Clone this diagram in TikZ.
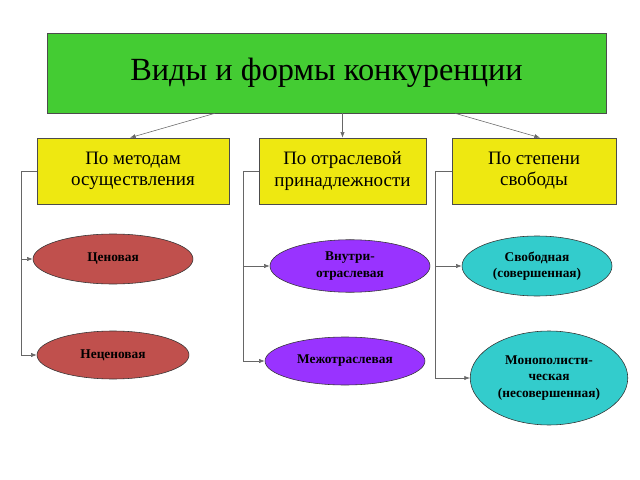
\documentclass[tikz,border=0pt]{standalone}
\usepackage{fontspec}
\setmainfont{Liberation Serif}
\usetikzlibrary{shapes.geometric,arrows.meta}
\definecolor{titlegreen}{RGB}{68,204,51}
\definecolor{boxyellow}{RGB}{238,232,17}
\definecolor{ovalred}{RGB}{192,80,77}
\definecolor{ovalviolet}{RGB}{153,51,255}
\definecolor{ovalcyan}{RGB}{51,204,204}
\tikzset{
  kind/.style={draw=black!70, fill=boxyellow, align=center, font=\fontsize{13.5}{15}\selectfont},
  oval/.style={ellipse, draw=black!80, align=center, font=\bfseries\fontsize{9.5}{11.5}\selectfont},
  link/.style={draw=black!60, -{Latex[length=4pt,width=3pt]}},
}
\begin{document}
\begin{tikzpicture}[x=0.025cm,y=-0.025cm]
    \useasboundingbox (0,0) rectangle (640,480);
    \node[draw=black!70, fill=titlegreen, minimum width=559*0.025cm, minimum height=80*0.025cm,
      font=\fontsize{23}{26}\selectfont] (title) at (326.5,73) {Виды и формы конкуренции};

    \node[kind, minimum width=192*0.025cm, minimum height=66*0.025cm] (meth) at (133,171) {По методам\\осуществления};
    \node[kind, minimum width=167*0.025cm, minimum height=66*0.025cm] (branch) at (342.5,171) {По отраслевой\\принадлежности};
    \node[kind, minimum width=164*0.025cm, minimum height=66*0.025cm] (free) at (534,171) {По степени\\свободы};

    \node[oval, fill=ovalred, minimum width=160*0.025cm, minimum height=50*0.025cm] (price) at (113,259) {Ценовая};
    \node[oval, fill=ovalred, minimum width=152*0.025cm, minimum height=48*0.025cm] (nonprice) at (113,355) {Неценовая};
    \node[oval, fill=ovalviolet, minimum width=160*0.025cm, minimum height=50*0.025cm] (intra) at (350,266) {Внутри-\\отраслевая};
    \node[oval, fill=ovalviolet, minimum width=160*0.025cm, minimum height=48*0.025cm] (inter) at (345,361) {Межотраслевая};
    \node[oval, fill=ovalcyan, minimum width=150*0.025cm, minimum height=60*0.025cm] (perfect) at (537,266) {Свободная\\(совершенная)};
    \node[oval, fill=ovalcyan, minimum width=156*0.025cm, minimum height=94*0.025cm] (monop) at (549,378) {Монополисти-\\ческая\\(несовершенная)};

    % from the title
    \draw[link] (title.south -| 215,0) -- (meth.north -| 130,0);
    \draw[link] (title.south -| branch.north) -- (branch.north);
    \draw[link] (title.south -| 455,0) -- (free.north -| 540,0);

    % brackets
    \draw[draw=black!60] (meth.west) -- (21,171) -- (21,355);
    \draw[link] (21,259) -- (price.west);
    \draw[link] (21,355) -- (nonprice.west);
    \draw[draw=black!60] (branch.west) -- (243,171) -- (243,361);
    \draw[link] (243,266) -- (intra.west);
    \draw[link] (243,361) -- (inter.west);
    \draw[draw=black!60] (free.west) -- (435,171) -- (435,378);
    \draw[link] (435,266) -- (perfect.west);
    \draw[link] (435,378) -- (monop.west);
\end{tikzpicture}
\end{document}
